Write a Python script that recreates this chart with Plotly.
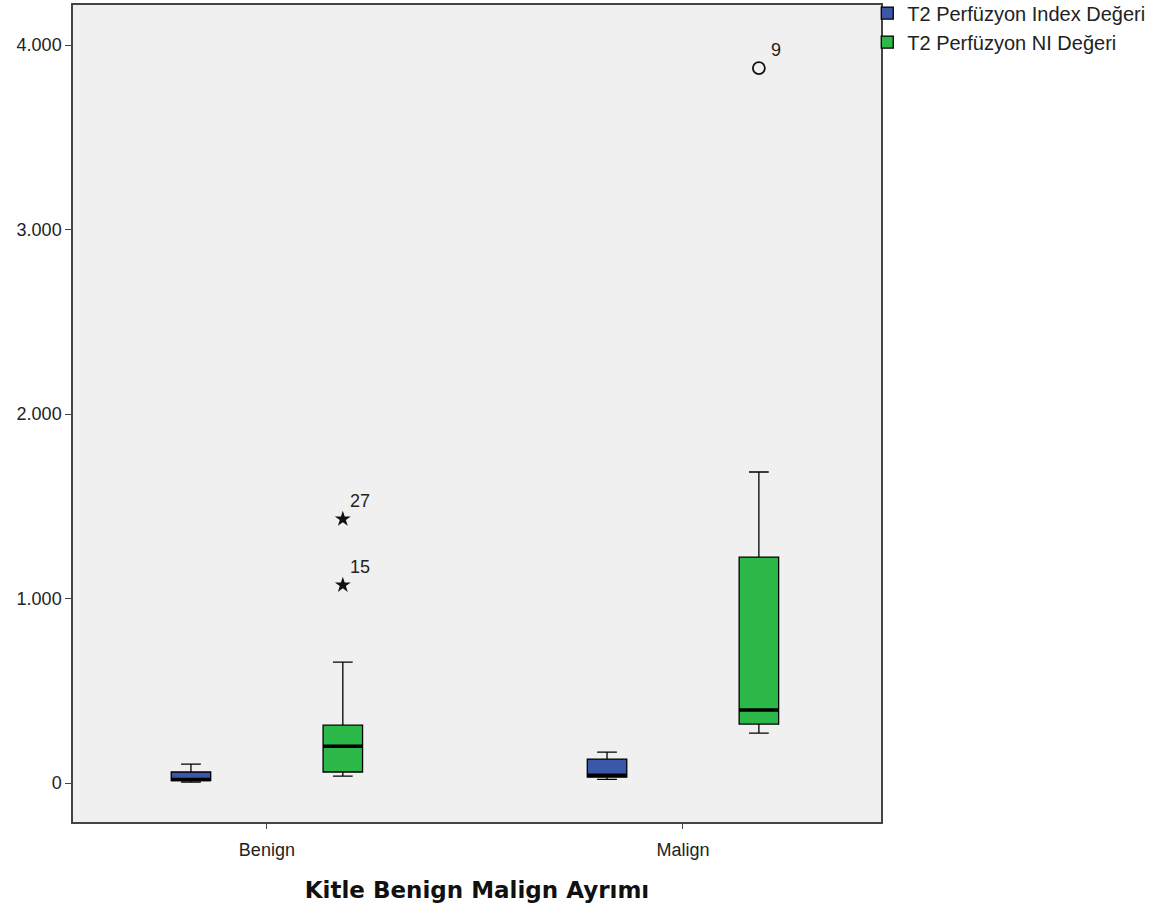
import plotly.graph_objects as go

categories = ["Benign", "Malign"]

# T2 Perfüzyon Index Değeri
idx_lower = [5, 20]
idx_q1 = [14, 32]
idx_median = [20, 42]
idx_q3 = [60, 130]
idx_upper = [103, 168]

# T2 Perfüzyon NI Değeri
ni_lower = [38, 271]
ni_q1 = [60, 320]
ni_median = [200, 396]
ni_q3 = [314, 1225]
ni_upper = [656, 1686]

# outliers
ni_ext_x = ["Benign", "Benign"]
ni_ext_y = [1431, 1073]
ni_ext_lbl = ["27", "15"]
ni_out_x = ["Malign"]
ni_out_y = [3875]
ni_out_lbl = ["9"]

blue = "#3A57A8"
green = "#2DB84A"

fig = go.Figure()
fig.add_trace(go.Box(
    name="T2 Perfüzyon Index Değeri", x=categories, q1=idx_q1, median=idx_median, q3=idx_q3,
    lowerfence=idx_lower, upperfence=idx_upper, fillcolor=blue,
    line=dict(color="black", width=1.3), offsetgroup="a", boxpoints=False, whiskerwidth=0.5))
fig.add_trace(go.Box(
    name="T2 Perfüzyon NI Değeri", x=categories, q1=ni_q1, median=ni_median, q3=ni_q3,
    lowerfence=ni_lower, upperfence=ni_upper, fillcolor=green,
    line=dict(color="black", width=1.3), offsetgroup="b", boxpoints=False, whiskerwidth=0.5))
# thick median overlays
fig.add_trace(go.Box(
    x=categories, q1=idx_median, median=idx_median, q3=idx_median,
    lowerfence=idx_median, upperfence=idx_median, fillcolor="rgba(0,0,0,0)",
    line=dict(color="black", width=3.5), offsetgroup="a", showlegend=False, hoverinfo="skip",
    boxpoints=False, whiskerwidth=0))
fig.add_trace(go.Box(
    x=categories, q1=ni_median, median=ni_median, q3=ni_median,
    lowerfence=ni_median, upperfence=ni_median, fillcolor="rgba(0,0,0,0)",
    line=dict(color="black", width=3.5), offsetgroup="b", showlegend=False, hoverinfo="skip",
    boxpoints=False, whiskerwidth=0))

# outliers drawn as box points aligned with the NI group
fig.add_trace(go.Box(
    x=ni_ext_x, y=ni_ext_y, offsetgroup="b", boxpoints="all", pointpos=0, jitter=0,
    fillcolor="rgba(0,0,0,0)", line=dict(color="rgba(0,0,0,0)", width=0),
    marker=dict(symbol="star", size=12, color="#111", line=dict(width=0)),
    showlegend=False, hoverinfo="y"))
fig.add_trace(go.Box(
    x=ni_out_x, y=ni_out_y, offsetgroup="b", boxpoints="all", pointpos=0, jitter=0,
    fillcolor="rgba(0,0,0,0)", line=dict(color="rgba(0,0,0,0)", width=0),
    marker=dict(symbol="circle-open", size=12, color="#111", line=dict(color="#111", width=1.8)),
    showlegend=False, hoverinfo="y"))

fig.update_layout(
    width=1159, height=916,
    boxmode="group", boxgap=0.27, boxgroupgap=0.74,
    paper_bgcolor="white", plot_bgcolor="#F0F0F0",
    margin=dict(l=73, r=278, t=5, b=94, autoexpand=False),
    font=dict(family="Liberation Sans, Arial", size=18, color="#222"),
    separators=",.",
    legend=dict(x=0.983, xanchor="left", y=1.014, yanchor="top", bgcolor="rgba(0,0,0,0)",
                font=dict(size=20, color="#222"), tracegroupgap=0, itemwidth=30),
    xaxis=dict(type="category", range=[-0.466, 1.476], showline=True, mirror=True,
               linecolor="#444", linewidth=1.5, ticks="outside", ticklen=5, tickcolor="#444",
               ticklabelstandoff=6,
               showgrid=False, zeroline=False,
               title=dict(text="<b>Kitle Benign Malign Ayrımı</b>",
                          font=dict(family="DejaVu Sans", size=23, color="#111"),
                          standoff=23)),
    yaxis=dict(range=[-211, 4217], tickvals=[0, 1000, 2000, 3000, 4000], tickformat=",d",
               showline=True, mirror=True, linecolor="#444", linewidth=1.5,
               ticks="outside", ticklen=6, tickcolor="#444", showgrid=False, zeroline=False),
)

# labels for outliers
for xs, ys, ls in [(ni_ext_x, ni_ext_y, ni_ext_lbl), (ni_out_x, ni_out_y, ni_out_lbl)]:
    for xv, yv, lv in zip(xs, ys, ls):
        fig.add_annotation(x=xv, y=yv, text=lv, showarrow=False, xshift=93, yshift=18,
                           font=dict(size=18, color="#222"))

fig.write_html("out.html", config={"displayModeBar": False},
               post_script="document.body.style.margin='0';")
